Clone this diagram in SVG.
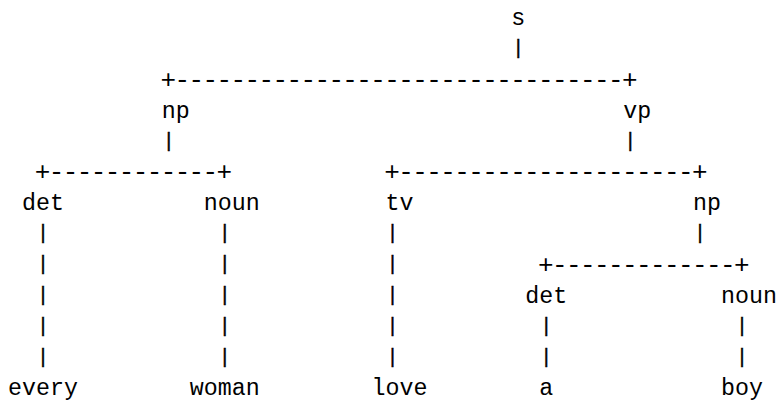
<svg xmlns="http://www.w3.org/2000/svg" width="776" height="401" viewBox="0 0 776 401">
<style>
text { font-family: "Liberation Mono", "DejaVu Sans Mono", monospace; font-size: 23.3px; fill: #000; }
.lbl { text-anchor: start; }
.bar { text-anchor: start; font-size: 26px; }
.pipe { text-anchor: middle; font-size: 20px; stroke: #000; stroke-width: 0.4px; }
</style>
<rect width="776" height="401" fill="#fff"/>
<g id="connectors">
  <text class="pipe" x="518.3" y="54.3">|</text>
  <text class="bar" x="160.6" y="87.5" textLength="477.0" lengthAdjust="spacing">+--------------------------------+</text>
  <text class="pipe" x="168.8" y="146.8">|</text>
  <text class="pipe" x="630.2" y="146.8">|</text>
  <text class="bar" x="34.8" y="180" textLength="197.4" lengthAdjust="spacing">+------------+</text>
  <text class="bar" x="384.3" y="180" textLength="323.2" lengthAdjust="spacing">+---------------------+</text>
  <text class="pipe" x="43.0" y="239.3">|</text>
  <text class="pipe" x="43.0" y="270.2">|</text>
  <text class="pipe" x="43.0" y="301">|</text>
  <text class="pipe" x="43.0" y="331.8">|</text>
  <text class="pipe" x="43.0" y="362.7">|</text>
  <text class="pipe" x="224.7" y="239.3">|</text>
  <text class="pipe" x="224.7" y="270.2">|</text>
  <text class="pipe" x="224.7" y="301">|</text>
  <text class="pipe" x="224.7" y="331.8">|</text>
  <text class="pipe" x="224.7" y="362.7">|</text>
  <text class="pipe" x="392.5" y="239.3">|</text>
  <text class="pipe" x="392.5" y="270.2">|</text>
  <text class="pipe" x="392.5" y="301">|</text>
  <text class="pipe" x="392.5" y="331.8">|</text>
  <text class="pipe" x="392.5" y="362.7">|</text>
  <text class="pipe" x="700.1" y="239.3">|</text>
  <text class="bar" x="538.1" y="272.5" textLength="211.4" lengthAdjust="spacing">+-------------+</text>
  <text class="pipe" x="546.3" y="331.8">|</text>
  <text class="pipe" x="546.3" y="362.7">|</text>
  <text class="pipe" x="742.0" y="331.8">|</text>
  <text class="pipe" x="742.0" y="362.7">|</text>
</g>
<g id="node-s"><text class="lbl" x="511.3" y="25">s</text></g>
<g id="node-np"><text class="lbl" x="161.8" y="117.5">np</text></g>
<g id="node-vp"><text class="lbl" x="623.2" y="117.5">vp</text></g>
<g id="node-det1"><text class="lbl" x="22.0" y="210">det</text></g>
<g id="node-noun1"><text class="lbl" x="203.8" y="210">noun</text></g>
<g id="node-tv"><text class="lbl" x="385.5" y="210">tv</text></g>
<g id="node-np2"><text class="lbl" x="693.1" y="210">np</text></g>
<g id="node-det2"><text class="lbl" x="525.3" y="302.5">det</text></g>
<g id="node-noun2"><text class="lbl" x="721.0" y="302.5">noun</text></g>
<g id="node-every"><text class="lbl" x="8.05" y="395">every</text></g>
<g id="node-woman"><text class="lbl" x="189.8" y="395">woman</text></g>
<g id="node-love"><text class="lbl" x="371.5" y="395">love</text></g>
<g id="node-a"><text class="lbl" x="539.3" y="395">a</text></g>
<g id="node-boy"><text class="lbl" x="721.0" y="395">boy</text></g>
</svg>
